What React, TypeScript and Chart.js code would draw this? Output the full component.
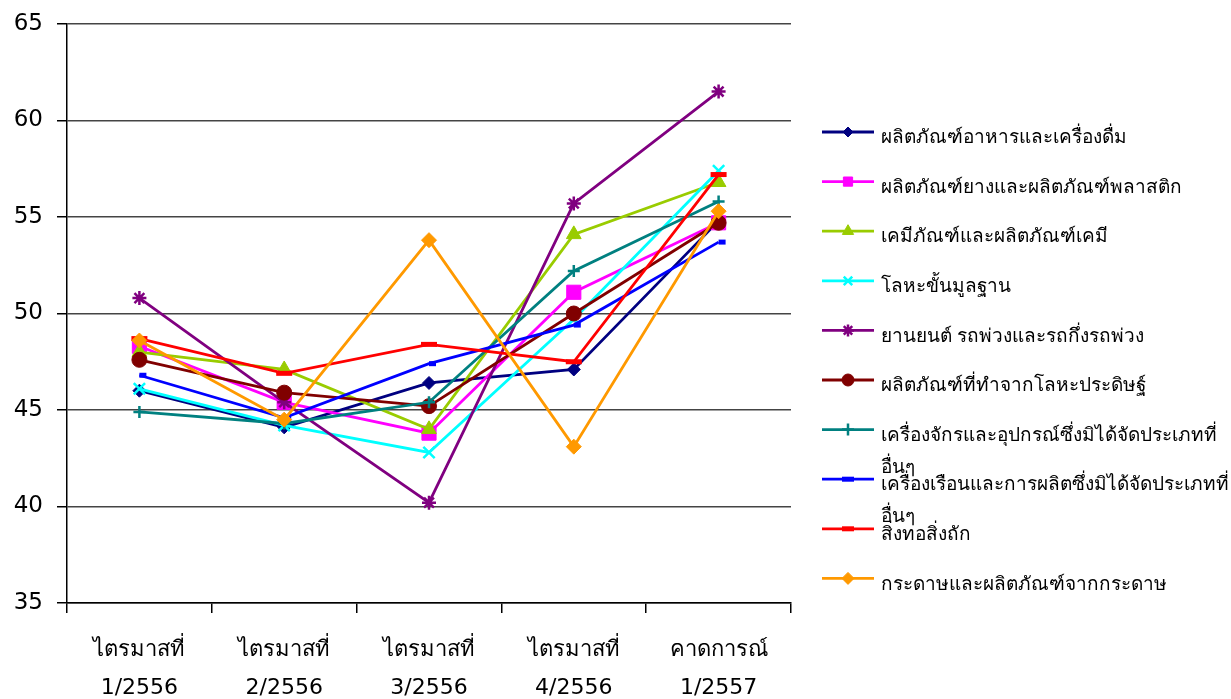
import React, { useEffect, useRef } from 'react';
import { Chart, registerables } from 'chart.js';
import { drawPoint } from 'chart.js/helpers';

Chart.register(...registerables);

const categories: string[][] = [
  ['ไตรมาสที่', '1/2556'],
  ['ไตรมาสที่', '2/2556'],
  ['ไตรมาสที่', '3/2556'],
  ['ไตรมาสที่', '4/2556'],
  ['คาดการณ์', '1/2557'],
];

const seriesNames: string[][] = [
  ['ผลิตภัณฑ์อาหารและเครื่องดื่ม'],
  ['ผลิตภัณฑ์ยางและผลิตภัณฑ์พลาสติก'],
  ['เคมีภัณฑ์และผลิตภัณฑ์เคมี'],
  ['โลหะขั้นมูลฐาน'],
  ['ยานยนต์ รถพ่วงและรถกึ่งรถพ่วง'],
  ['ผลิตภัณฑ์ที่ทำจากโลหะประดิษฐ์'],
  ['เครื่องจักรและอุปกรณ์ซึ่งมิได้จัดประเภทที่', 'อื่นๆ'],
  ['เครื่องเรือนและการผลิตซึ่งมิได้จัดประเภทที่', 'อื่นๆ'],
  ['สิ่งทอสิ่งถัก'],
  ['กระดาษและผลิตภัณฑ์จากกระดาษ'],
];

const food = [46.0, 44.1, 46.4, 47.1, 54.8];
const rubberPlastic = [48.3, 45.4, 43.8, 51.1, 54.7];
const chemical = [48.0, 47.1, 44.0, 54.1, 56.8];
const basicMetal = [46.1, 44.2, 42.8, 49.7, 57.4];
const automotive = [50.8, 45.4, 40.2, 55.7, 61.5];
const fabricatedMetal = [47.6, 45.9, 45.2, 50.0, 54.7];
const machinery = [44.9, 44.3, 45.4, 52.2, 55.8];
const furniture = [46.8, 44.6, 47.4, 49.4, 53.7];
const textiles = [48.7, 46.9, 48.4, 47.5, 57.2];
const paper = [48.6, 44.5, 53.8, 43.1, 55.3];

const yTicks = [35, 40, 45, 50, 55, 60, 65];

const seriesValues = [food, rubberPlastic, chemical, basicMetal, automotive, fabricatedMetal, machinery, furniture, textiles, paper];
const colors = ['#000080', '#FF00FF', '#99CC00', '#00FFFF', '#800080', '#800000', '#008080', '#0000FF', '#FF0000', '#FF9900'];
const pointStyles = ['rectRot', 'rect', 'triangle', 'crossRot', 'star', 'circle', 'cross', 'dash', 'line', 'rectRot'];
const pointRadii = [6.5, 10, 8.5, 8, 7, 7.5, 6, 7, 8, 7.5];
const pointBorderWidths = [1, 1, 1, 2.5, 2.5, 1, 2.5, 5, 5, 1];
const legendRadii = [5, 6.5, 6.5, 6, 6, 6, 6, 6, 6, 6];

const FONT = '"DejaVu Sans", "Liberation Sans", Arial, sans-serif';

const legendPlugin = {
  id: 'customLegend',
  afterDraw(chart: any) {
    const ctx = chart.ctx;
    ctx.save();
    const x0 = 822;
    const x1 = 874;
    chart.data.datasets.forEach((ds: any, i: number) => {
      const y = 132 + i * 49.6;
      ctx.strokeStyle = ds.borderColor;
      ctx.lineWidth = 2.8;
      ctx.beginPath();
      ctx.moveTo(x0, y);
      ctx.lineTo(x1, y);
      ctx.stroke();
      ctx.fillStyle = ds.pointBackgroundColor;
      ctx.strokeStyle = ds.borderColor;
      ctx.lineWidth = ds.pointBorderWidth;
      const style = ds.pointStyle === 'dash' ? 'line' : ds.pointStyle;
      drawPoint(ctx, { pointStyle: style, radius: legendRadii[i], rotation: 0, borderWidth: ds.pointBorderWidth }, (x0 + x1) / 2, y);
      ctx.fillStyle = '#000';
      ctx.font = '19px "Liberation Sans", Arial, sans-serif';
      ctx.textBaseline = 'middle';
      ctx.textAlign = 'left';
      const lines: string[] = ds.legendLines;
      lines.forEach((t, k) => {
        ctx.fillText(t, 881, y + 6 + k * 32);
      });
    });
    ctx.restore();
  },
};

export default function App() {
  const ref = useRef<HTMLCanvasElement | null>(null);
  useEffect(() => {
    if (!ref.current) return;
    const chart = new Chart(ref.current, {
      type: 'line',
      data: {
        labels: categories,
        datasets: seriesValues.map((vals, i) => ({
          label: seriesNames[i].join(''),
          legendLines: seriesNames[i],
          data: vals,
          order: 10 - i,
          borderColor: colors[i],
          backgroundColor: colors[i],
          pointBackgroundColor: colors[i],
          pointBorderColor: colors[i],
          pointStyle: pointStyles[i],
          pointRadius: pointRadii[i],
          pointBorderWidth: pointBorderWidths[i],
          borderWidth: 2.8,
          tension: 0,
          fill: false,
        })) as any,
      },
      options: {
        animation: false,
        responsive: false,
        maintainAspectRatio: false,
        layout: { padding: { top: 24, right: 440, left: 0, bottom: 0 } },
        plugins: { legend: { display: false }, tooltip: { enabled: false } },
        scales: {
          x: {
            type: 'category',
            offset: true,
            afterFit: (s: any) => { s.height = 96; s.paddingLeft = 0; s.paddingRight = 0; },
            grid: { display: true, drawOnChartArea: false, drawTicks: true, tickLength: 10, offset: true, color: '#000', tickColor: '#000', lineWidth: 1.5 },
            border: { display: true, color: '#000', width: 1.5 },
            ticks: { color: '#000', padding: 18, maxRotation: 0, autoSkip: false, font: { family: FONT, size: 22, lineHeight: 1.727 } },
          },
          y: {
            min: 35,
            max: 65,
            afterFit: (s: any) => { s.width = 67; s.paddingTop = 0; s.paddingBottom = 0; },
            afterBuildTicks: (s: any) => { s.ticks = yTicks.map((v) => ({ value: v })); },
            grid: { color: '#444', lineWidth: 1.5, tickLength: 10, tickColor: '#000' },
            border: { display: true, color: '#000', width: 1.5 },
            ticks: { color: '#000', padding: 14, font: { family: FONT, size: 23 } },
          },
        },
      },
      plugins: [legendPlugin],
    });
    return () => chart.destroy();
  }, []);
  return (
    <div style={{ position: 'fixed', left: 0, top: 0, width: 1231, height: 699, background: '#fff' }}>
      <canvas ref={ref} width={1231} height={699} style={{ width: 1231, height: 699 }} />
    </div>
  );
}
